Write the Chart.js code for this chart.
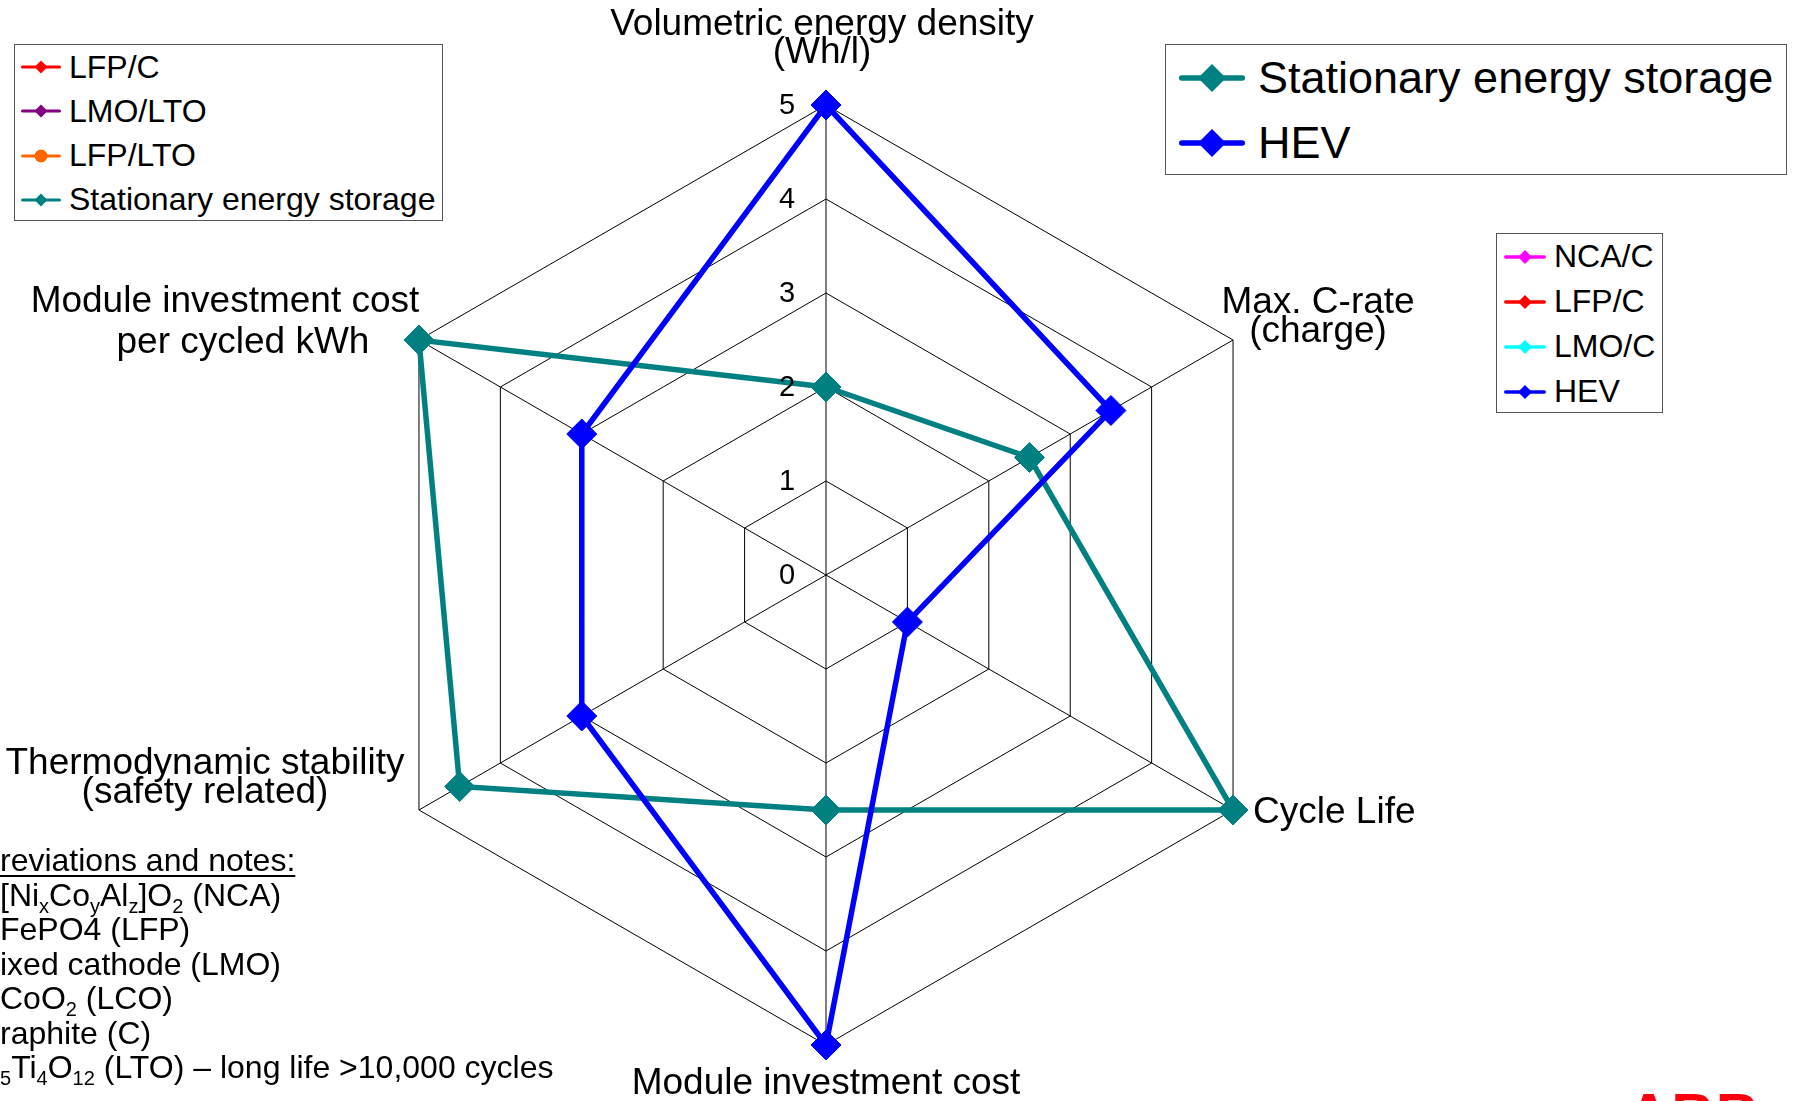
<!DOCTYPE html>
<html>
<head>
<meta charset="utf-8">
<script src="https://cdn.jsdelivr.net/npm/chart.js@4.4.0/dist/chart.umd.min.js"></script>
<style>
body { margin: 0; background: #fff; font-family: "Liberation Sans", Arial, sans-serif; color: #000; }
#wrap { position: relative; width: 1798px; height: 1101px; overflow: hidden; }
#chartBox { position: absolute; left: 0; top: 0; width: 1798px; height: 1101px; }
.legend { position: absolute; border: 1px solid #555; background: #fff; box-sizing: border-box; }
.legend .row { display: flex; align-items: center; white-space: nowrap; }
.legend svg { display: block; flex: none; }
#notes { position: absolute; left: 0; top: 843px; font-size: 32px; line-height: 34.5px; white-space: nowrap; }
#notes sub { font-size: 20px; line-height: 0; vertical-align: -7px; }
#notes .u { text-decoration: underline; text-decoration-thickness: 2px; text-underline-offset: 4px; }
#logo { position: absolute; left: 1627px; top: 1085px; font-size: 60px; line-height: 1; font-weight: bold; color: #FF000F; letter-spacing: 1px; }
</style>
</head>
<body>
<div id="wrap">
  <div id="chartBox"><canvas id="radarChart"></canvas></div>
  <div class="legend" id="legendLeft" style="left:14px; top:44px; width:429px; height:177px;"></div>
  <div class="legend" id="legendBig" style="left:1165px; top:44px; width:622px; height:131px;"></div>
  <div class="legend" id="legendRight" style="left:1496px; top:233px; width:167px; height:180px;"></div>
  <div id="notes">
    <div class="u">reviations and notes:</div>
    <div>[Ni<sub>x</sub>Co<sub>y</sub>Al<sub>z</sub>]O<sub>2</sub> (NCA)</div>
    <div>FePO4 (LFP)</div>
    <div>ixed cathode (LMO)</div>
    <div>CoO<sub>2</sub> (LCO)</div>
    <div>raphite (C)</div>
    <div><sub>5</sub>Ti<sub>4</sub>O<sub>12</sub> (LTO) – long life &gt;10,000 cycles</div>
  </div>
  <div id="logo">ABB</div>
</div>
<script>
// 坐标轴名称（多行）
const axisNames = [
    ['Volumetric energy density', '(Wh/l)'],
    ['Max. C-rate', '(charge)'],
    ['Cycle Life'],
    ['Module investment cost'],
    ['Thermodynamic stability', '(safety related)'],
    ['Module investment cost', 'per cycled kWh']
];
const tickValues = [0, 1, 2, 3, 4, 5];

// 数据系列
const stationaryValues = [2, 2.5, 5, 2.5, 4.5, 5];
const hevValues = [5, 3.5, 1, 5, 3, 3];

// 图例
const legendLeftNames = ['LFP/C', 'LMO/LTO', 'LFP/LTO', 'Stationary energy storage'];
const legendLeftColors = ['#FF0000', '#800080', '#FF6600', '#008080'];
const legendLeftShapes = ['diamond', 'diamond', 'circle', 'diamond'];
const legendBigNames = ['Stationary energy storage', 'HEV'];
const legendBigColors = ['#008080', '#0000FF'];
const legendRightNames = ['NCA/C', 'LFP/C', 'LMO/C', 'HEV'];
const legendRightColors = ['#FF00FF', '#FF0000', '#00FFFF', '#0000FF'];

// 轴标签相对顶点的位置
const labelLayout = [
    { align: 'center', dx: [-4, -4], dy: [-70, -42] },
    { align: 'center', dx: [85, 85], dy: [-27, 2] },
    { align: 'left', dx: [20], dy: [13] },
    { align: 'center', dx: [0], dy: [49] },
    { align: 'center', dx: [-214, -214], dy: [-36, -7] },
    { align: 'center', dx: [-194, -176], dy: [-28, 13] }
];

function markerSvg(color, shape, w, h, lw, ms) {
    const cy = h / 2, mid = w / 2;
    const mark = shape === 'circle'
        ? `<circle cx="${mid}" cy="${cy}" r="${ms / 2}" fill="${color}"/>`
        : `<polygon points="${mid - ms / 2},${cy} ${mid},${cy - ms / 2} ${mid + ms / 2},${cy} ${mid},${cy + ms / 2}" fill="${color}"/>`;
    return `<svg width="${w}" height="${h}"><line x1="${lw / 2}" y1="${cy}" x2="${w - lw / 2}" y2="${cy}" stroke="${color}" stroke-width="${lw}" stroke-linecap="round"/>${mark}</svg>`;
}

function buildLegend(id, names, colors, shapes, cfg) {
    const box = document.getElementById(id);
    names.forEach((name, i) => {
        const row = document.createElement('div');
        row.className = 'row';
        row.style.height = cfg.rowH + 'px';
        row.style.paddingLeft = cfg.padL + 'px';
        row.style.fontSize = cfg.font + 'px';
        row.innerHTML = markerSvg(colors[i], shapes ? shapes[i] : 'diamond', cfg.mw, cfg.mh, cfg.lw, cfg.ms) +
            `<span style="margin-left:${cfg.gap}px">${name}</span>`;
        box.appendChild(row);
    });
}

buildLegend('legendLeft', legendLeftNames, legendLeftColors, legendLeftShapes,
    { rowH: 44.25, padL: 6, mw: 40, mh: 16, lw: 3, ms: 13, gap: 8, font: 32 });
buildLegend('legendBig', legendBigNames, legendBigColors, null,
    { rowH: 65, padL: 13, mw: 66, mh: 32, lw: 5.5, ms: 28, gap: 13, font: 45 });
buildLegend('legendRight', legendRightNames, legendRightColors, null,
    { rowH: 45, padL: 7, mw: 42, mh: 16, lw: 3.5, ms: 14, gap: 8, font: 32 });

// 轴标签与刻度
const axisLabelPlugin = {
    id: 'axisLabels',
    afterDraw(chart) {
        const scale = chart.scales.r;
        const ctx = chart.ctx;
        ctx.save();
        ctx.fillStyle = '#000';
        ctx.font = '29px "Liberation Sans", Arial, sans-serif';
        ctx.textAlign = 'center';
        ctx.textBaseline = 'middle';
        tickValues.forEach(v => {
            const d = scale.getDistanceFromCenterForValue(v);
            ctx.fillText(String(v), scale.xCenter - 39, scale.yCenter - d + 1);
        });
        ctx.font = '37px "Liberation Sans", Arial, sans-serif';
        ctx.textBaseline = 'alphabetic';
        axisNames.forEach((lines, i) => {
            const p = scale.getPointPosition(i, scale.drawingArea);
            const lay = labelLayout[i];
            ctx.textAlign = lay.align;
            lines.forEach((t, j) => ctx.fillText(t, p.x + lay.dx[j], p.y + lay.dy[j]));
        });
        ctx.restore();
    }
};

new Chart(document.getElementById('radarChart'), {
    type: 'radar',
    data: {
        labels: axisNames,
        datasets: [
            {
                label: 'HEV',
                data: hevValues,
                borderColor: '#0000FF',
                backgroundColor: '#0000FF',
                pointBackgroundColor: '#0000FF',
                pointBorderColor: '#0000FF',
                borderWidth: 5.5,
                pointStyle: 'rectRot',
                pointRadius: 15,
                pointBorderWidth: 1,
                fill: false,
                tension: 0
            },
            {
                label: 'Stationary energy storage',
                data: stationaryValues,
                borderColor: '#008080',
                backgroundColor: '#008080',
                pointBackgroundColor: '#008080',
                pointBorderColor: '#008080',
                borderWidth: 5.5,
                pointStyle: 'rectRot',
                pointRadius: 15,
                pointBorderWidth: 1,
                fill: false,
                tension: 0
            }
        ]
    },
    options: {
        responsive: true,
        maintainAspectRatio: false,
        animation: false,
        events: [],
        layout: { padding: { left: 356, top: 105, right: 502, bottom: 56 } },
        plugins: { legend: { display: false }, tooltip: { enabled: false } },
        scales: {
            r: {
                min: 0,
                max: 5,
                ticks: { stepSize: 1, display: false },
                pointLabels: { display: false },
                grid: { color: '#000', lineWidth: 1 },
                angleLines: { color: '#000', lineWidth: 1 }
            }
        }
    },
    plugins: [axisLabelPlugin]
});
</script>
</body>
</html>
